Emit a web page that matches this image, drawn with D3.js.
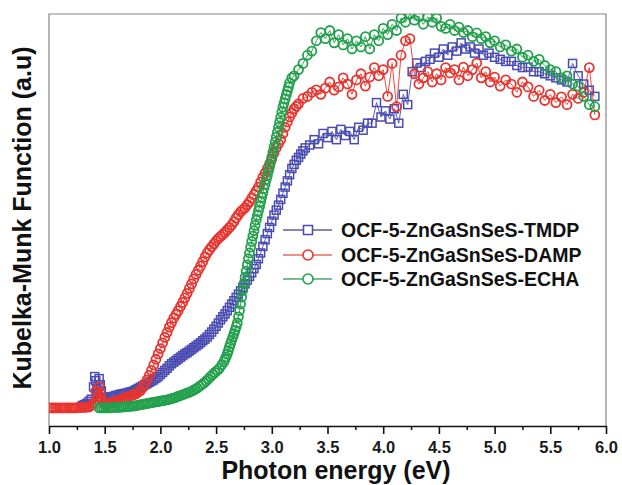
<!DOCTYPE html>
<html>
<head>
<meta charset="utf-8">
<script src="https://cdn.jsdelivr.net/npm/d3@7"></script>
<style>
  body { margin: 0; background: #fff; }
  text { font-family: "Liberation Sans", Arial, sans-serif; font-weight: bold; }
</style>
</head>
<body>
<svg id="chart" width="622" height="485"></svg>
<script>
// tick values (eV)
var majorTicks = [1.0, 1.5, 2.0, 2.5, 3.0, 3.5, 4.0, 4.5, 5.0, 5.5, 6.0];
var minorTicks = [1.25, 1.75, 2.25, 2.75, 3.25, 3.75, 4.25, 4.75, 5.25, 5.75];

var seriesNames = ["OCF-5-ZnGaSnSeS-TMDP", "OCF-5-ZnGaSnSeS-DAMP", "OCF-5-ZnGaSnSeS-ECHA"];

// [photon energy (eV), Kubelka-Munk (a.u.)]
var tmdp = [
  [1.30,5.0],[1.32,5.2],[1.34,5.5],[1.36,6.0],[1.38,6.5],[1.40,9.5],[1.41,12.0],[1.42,11.0],[1.43,9.0],
  [1.44,8.0],[1.45,11.5],[1.46,10.0],[1.47,8.5],[1.48,7.0],[1.50,6.5],[1.52,6.8],[1.54,7.0],[1.56,7.1],
  [1.58,7.2],[1.60,7.4],[1.62,7.5],[1.64,7.7],[1.66,7.8],[1.68,7.9],[1.70,8.0],[1.72,8.2],[1.74,8.3],
  [1.76,8.5],[1.78,8.8],[1.80,9.1],[1.82,9.4],[1.84,9.7],[1.86,10.0],[1.88,10.3],[1.90,10.6],[1.92,10.9],
  [1.94,11.2],[1.96,11.6],[1.98,12.0],[2.00,12.5],[2.02,13.0],[2.04,13.5],[2.06,14.0],[2.08,14.6],
  [2.10,15.1],[2.12,15.5],[2.14,15.9],[2.16,16.3],[2.18,16.7],[2.20,17.1],[2.22,17.5],[2.24,17.8],
  [2.26,18.2],[2.28,18.6],[2.30,19.0],[2.32,19.4],[2.34,19.8],[2.36,20.2],[2.38,20.7],[2.40,21.1],
  [2.42,21.6],[2.44,22.2],[2.46,22.8],[2.48,23.5],[2.50,24.2],[2.52,25.0],[2.54,25.8],[2.56,26.5],
  [2.58,27.2],[2.60,28.0],[2.62,28.8],[2.64,29.6],[2.66,30.4],[2.68,31.2],[2.70,32.0],[2.72,32.8],
  [2.74,33.6],[2.76,34.5],[2.78,35.4],[2.80,36.3],[2.82,37.2],[2.84,38.2],[2.86,39.2],[2.88,40.6],
  [2.90,42.0],[2.92,43.6],[2.94,45.2],[2.96,46.7],[2.98,48.2],[3.00,49.7],[3.02,51.2],[3.04,52.4],
  [3.06,53.6],[3.08,55.0],[3.10,56.5],[3.12,58.0],[3.14,59.5],[3.16,61.0],[3.18,62.5],[3.20,63.5],
  [3.22,64.5],[3.24,65.2],[3.26,66.0],[3.28,66.8],[3.30,67.5],[3.34,68.2],[3.38,69.5],[3.42,68.5],
  [3.46,71.0],[3.50,70.0],[3.54,71.5],[3.58,69.5],[3.62,72.0],[3.66,70.5],[3.70,71.5],[3.74,69.5],
  [3.78,72.5],[3.82,71.8],[3.86,73.5],[3.90,73.5],[3.94,78.5],[3.98,75.0],[4.02,76.5],[4.06,74.5],
  [4.10,77.0],[4.14,73.5],[4.18,80.5],[4.22,78.0],[4.26,86.0],[4.30,88.1],[4.34,87.0],[4.38,88.5],
  [4.42,89.0],[4.46,90.5],[4.50,89.5],[4.54,91.5],[4.58,90.0],[4.62,92.0],[4.66,91.0],[4.70,93.0],
  [4.74,91.5],[4.78,92.0],[4.82,90.5],[4.86,91.5],[4.90,90.0],[4.95,90.5],[5.00,89.5],[5.05,89.0],
  [5.10,88.5],[5.15,88.5],[5.20,87.5],[5.25,87.0],[5.30,87.1],[5.35,86.0],[5.40,86.0],[5.45,85.5],
  [5.50,85.0],[5.55,84.5],[5.60,84.0],[5.65,83.5],[5.70,88.0],[5.75,85.0],[5.80,83.0],[5.85,81.5],
  [5.90,80.0]
];

var damp = [
  [1.00,4.4],[1.02,4.4],[1.04,4.4],[1.06,4.4],[1.08,4.4],[1.10,4.4],[1.12,4.4],[1.14,4.4],[1.16,4.4],
  [1.18,4.4],[1.20,4.4],[1.22,4.4],[1.24,4.4],[1.26,4.5],[1.28,4.5],[1.30,4.5],[1.32,4.5],[1.34,4.6],
  [1.36,4.6],[1.38,5.0],[1.40,5.5],[1.42,8.5],[1.43,6.5],[1.44,7.0],[1.45,9.5],[1.46,8.0],[1.47,6.5],
  [1.48,6.0],[1.50,5.4],[1.52,5.4],[1.54,5.5],[1.56,5.6],[1.58,5.8],[1.60,6.0],[1.62,6.2],[1.64,6.4],
  [1.66,6.6],[1.68,6.8],[1.70,7.0],[1.72,7.2],[1.74,7.4],[1.76,7.6],[1.78,7.8],[1.80,8.2],[1.82,8.6],
  [1.84,9.3],[1.86,10.2],[1.88,11.2],[1.90,12.3],[1.92,13.5],[1.94,14.8],[1.96,16.2],[1.98,17.5],
  [2.00,18.8],[2.02,20.2],[2.04,21.5],[2.06,22.7],[2.08,24.0],[2.10,25.1],[2.12,26.2],[2.14,27.1],
  [2.16,28.0],[2.18,29.0],[2.20,30.0],[2.22,31.1],[2.24,32.2],[2.26,33.4],[2.28,34.5],[2.30,35.7],
  [2.32,36.8],[2.34,37.8],[2.36,38.8],[2.38,39.9],[2.40,41.0],[2.42,42.0],[2.44,42.8],[2.46,43.5],
  [2.48,44.2],[2.50,44.9],[2.52,45.5],[2.54,46.0],[2.56,46.5],[2.58,47.0],[2.60,47.6],[2.62,48.2],
  [2.64,48.8],[2.66,49.6],[2.68,50.5],[2.70,51.3],[2.72,52.0],[2.74,52.5],[2.76,53.0],[2.78,53.7],
  [2.80,54.4],[2.82,55.3],[2.84,56.2],[2.86,57.1],[2.88,58.0],[2.90,59.2],[2.92,60.4],[2.94,61.4],
  [2.96,62.5],[2.98,63.6],[3.00,64.8],[3.02,66.2],[3.04,67.5],[3.06,68.5],[3.08,69.5],[3.10,71.0],
  [3.12,72.5],[3.14,73.8],[3.16,75.0],[3.18,76.0],[3.20,77.0],[3.22,77.6],[3.24,78.2],[3.28,79.5],
  [3.32,80.0],[3.36,81.0],[3.40,81.6],[3.44,80.5],[3.48,82.0],[3.52,83.5],[3.56,81.5],[3.60,82.3],
  [3.64,84.5],[3.68,83.0],[3.72,80.5],[3.76,84.0],[3.80,85.5],[3.84,82.5],[3.88,84.7],[3.92,87.0],
  [3.96,85.0],[4.00,86.5],[4.04,80.0],[4.08,88.0],[4.12,77.5],[4.16,90.0],[4.20,93.5],[4.24,94.0],
  [4.28,85.5],[4.32,83.0],[4.36,84.5],[4.40,86.0],[4.44,83.5],[4.48,85.5],[4.52,84.0],[4.56,87.0],
  [4.60,85.7],[4.64,86.5],[4.68,84.0],[4.72,87.1],[4.76,85.0],[4.80,86.5],[4.84,88.1],[4.88,84.5],
  [4.92,86.0],[4.96,83.5],[5.00,84.7],[5.05,82.5],[5.10,84.0],[5.15,83.0],[5.20,81.0],[5.25,83.5],
  [5.30,82.3],[5.35,80.0],[5.40,81.5],[5.45,79.0],[5.50,80.5],[5.55,78.5],[5.60,79.9],[5.65,78.0],
  [5.70,80.5],[5.75,79.5],[5.80,81.0],[5.85,87.0],[5.90,75.5]
];

var echa = [
  [1.45,4.4],[1.47,4.4],[1.49,4.4],[1.51,4.4],[1.53,4.4],[1.55,4.4],[1.57,4.5],[1.59,4.5],[1.61,4.5],
  [1.63,4.5],[1.65,4.6],[1.67,4.6],[1.69,4.7],[1.71,4.7],[1.73,4.8],[1.75,4.8],[1.77,4.9],[1.79,5.0],
  [1.81,5.1],[1.83,5.2],[1.85,5.3],[1.87,5.4],[1.89,5.5],[1.91,5.6],[1.93,5.7],[1.95,5.8],[1.97,5.9],
  [1.99,6.0],[2.01,6.1],[2.03,6.2],[2.05,6.3],[2.07,6.4],[2.09,6.6],[2.11,6.7],[2.13,6.9],[2.15,7.1],
  [2.17,7.3],[2.19,7.5],[2.21,7.7],[2.23,7.9],[2.25,8.1],[2.27,8.3],[2.29,8.6],[2.31,8.9],[2.33,9.2],
  [2.35,9.6],[2.37,10.0],[2.39,10.4],[2.41,10.9],[2.43,11.4],[2.45,12.0],[2.47,12.5],[2.49,13.0],
  [2.51,13.5],[2.53,14.0],[2.55,14.8],[2.57,15.6],[2.58,16.2],[2.59,16.8],[2.60,17.5],[2.61,18.3],
  [2.62,19.2],[2.63,20.0],[2.64,20.8],[2.65,21.6],[2.66,22.4],[2.67,23.2],[2.68,24.1],[2.69,25.0],
  [2.70,26.5],[2.71,28.0],[2.72,29.6],[2.73,31.3],[2.74,33.0],[2.75,34.6],[2.76,36.1],[2.77,37.6],
  [2.78,39.1],[2.79,40.6],[2.80,42.0],[2.81,43.4],[2.82,44.8],[2.83,46.1],[2.84,47.4],[2.85,48.7],
  [2.86,50.0],[2.87,51.1],[2.88,52.2],[2.89,53.3],[2.90,54.4],[2.91,55.5],[2.92,56.6],[2.93,57.7],
  [2.94,58.7],[2.95,59.8],[2.96,60.8],[2.97,61.9],[2.98,62.9],[2.99,64.1],[3.00,65.3],[3.01,66.5],
  [3.02,67.7],[3.03,68.9],[3.04,70.1],[3.05,71.3],[3.06,72.5],[3.07,73.7],[3.08,74.9],[3.09,76.2],
  [3.10,77.4],[3.11,78.4],[3.12,79.4],[3.13,80.4],[3.14,81.3],[3.15,82.3],[3.16,83.3],[3.18,84.5],
  [3.20,85.0],[3.24,86.5],[3.28,88.0],[3.32,90.0],[3.36,91.0],[3.40,93.5],[3.44,95.5],[3.48,94.0],
  [3.52,96.0],[3.56,93.0],[3.60,95.0],[3.64,92.5],[3.68,94.0],[3.72,91.5],[3.76,93.5],[3.80,92.0],
  [3.84,94.5],[3.88,91.5],[3.92,95.0],[3.96,93.5],[4.00,96.5],[4.04,95.0],[4.08,97.5],[4.12,96.0],
  [4.16,99.0],[4.20,98.0],[4.24,100.0],[4.28,98.5],[4.32,99.5],[4.36,97.5],[4.40,99.3],[4.44,98.0],
  [4.48,99.0],[4.52,97.0],[4.56,96.5],[4.60,97.5],[4.64,96.0],[4.68,96.8],[4.72,95.5],[4.76,96.0],
  [4.80,94.5],[4.84,95.4],[4.88,94.0],[4.92,94.5],[4.96,93.0],[5.00,93.5],[5.05,92.0],[5.10,92.5],
  [5.15,91.0],[5.20,91.5],[5.25,89.5],[5.30,90.0],[5.35,88.5],[5.40,89.0],[5.45,87.5],[5.50,86.5],
  [5.55,86.0],[5.60,84.5],[5.65,85.0],[5.70,83.0],[5.75,82.5],[5.80,80.0],[5.85,78.0],[5.90,77.5]
];

var svg = d3.select("#chart");

var x = d3.scaleLinear().domain([1, 6]).range([49, 606]);
var y = d3.scaleLinear().domain([0, 100]).range([426, 14]);

// plot clip
svg.append("clipPath").attr("id", "plotClip")
  .append("rect")
  .attr("x", x(1)).attr("y", y(100))
  .attr("width", x(6) - x(1)).attr("height", y(0) - y(100));

// Frame (left / top / right)
svg.append("path")
  .attr("d", "M" + x(1) + "," + y(0) + "V" + y(100) + "H" + x(6) + "V" + y(0))
  .attr("fill", "none")
  .attr("stroke", "#8a8585")
  .attr("stroke-width", 1.2);

var series = [
  { data: tmdp, color: "#4a4cb3", lineColor: "#6a5a9a", shape: "square" },
  { data: damp, color: "#e8342e", lineColor: "#e86a60", shape: "circle" },
  { data: echa, color: "#22a04c", lineColor: "#4aa868", shape: "circle" }
];

var line = d3.line()
  .x(function(d) { return x(d[0]); })
  .y(function(d) { return y(d[1]); });

var plot = svg.append("g").attr("clip-path", "url(#plotClip)");

series.forEach(function(s) {
  var g = plot.append("g");

  g.append("path")
    .datum(s.data)
    .attr("d", line)
    .attr("fill", "none")
    .attr("stroke", s.color)
    .attr("stroke-width", 0.9);

  if (s.shape === "square") {
    g.selectAll("rect").data(s.data).enter().append("rect")
      .attr("x", function(d) { return x(d[0]) - 4; })
      .attr("y", function(d) { return y(d[1]) - 4; })
      .attr("width", 8).attr("height", 8)
      .attr("fill", "none")
      .attr("stroke", s.color)
      .attr("stroke-width", 1.5);
  } else {
    g.selectAll("circle").data(s.data).enter().append("circle")
      .attr("cx", function(d) { return x(d[0]); })
      .attr("cy", function(d) { return y(d[1]); })
      .attr("r", 4.5)
      .attr("fill", "none")
      .attr("stroke", s.color)
      .attr("stroke-width", 1.8);
  }
});

// Bottom axis, minor ticks
svg.append("g")
  .attr("transform", "translate(0," + y(0) + ")")
  .call(d3.axisBottom(x).tickValues(minorTicks).tickSize(4).tickSizeOuter(0).tickFormat(""))
  .call(function(g) {
    g.select(".domain").remove();
    g.selectAll("line").attr("stroke", "#111").attr("stroke-width", 1.5);
  });

// Bottom axis, major ticks + labels
svg.append("g")
  .attr("transform", "translate(0," + y(0) + ")")
  .call(d3.axisBottom(x).tickValues(majorTicks).tickSize(8).tickSizeOuter(0).tickPadding(7).tickFormat(d3.format(".1f")))
  .call(function(g) {
    g.attr("font-size", 16.5).attr("font-family", null);
    g.select(".domain").attr("stroke", "#111").attr("stroke-width", 1.6);
    g.selectAll("line").attr("stroke", "#111").attr("stroke-width", 1.6);
    g.selectAll("text")
      .attr("fill", "#1a1a1a")
      .attr("font-size", 16.5);
  });

// X title
svg.append("text")
  .attr("x", 336)
  .attr("y", 479)
  .attr("text-anchor", "middle")
  .attr("font-size", 25)
  .attr("fill", "#111")
  .text("Photon energy (eV)");

// Y title
svg.append("text")
  .attr("transform", "translate(31,218) rotate(-90)")
  .attr("text-anchor", "middle")
  .attr("font-size", 25)
  .attr("fill", "#111")
  .text("Kubelka-Munk Function (a.u)");

// Legend
var legendY = [230, 255, 279];
series.forEach(function(s, i) {
  var ly = legendY[i];
  svg.append("line")
    .attr("x1", 283).attr("x2", 332)
    .attr("y1", ly).attr("y2", ly)
    .attr("stroke", s.lineColor)
    .attr("stroke-width", 1.3);

  if (s.shape === "square") {
    svg.append("rect")
      .attr("x", 308 - 4.5).attr("y", ly - 4.5)
      .attr("width", 9).attr("height", 9)
      .attr("fill", "#fff")
      .attr("stroke", s.color)
      .attr("stroke-width", 1.5);
  } else {
    svg.append("circle")
      .attr("cx", 308).attr("cy", ly)
      .attr("r", 5)
      .attr("fill", "#fff")
      .attr("stroke", s.color)
      .attr("stroke-width", 1.6);
  }

  svg.append("text")
    .attr("x", 341)
    .attr("y", ly + 7)
    .attr("font-size", 19.5)
    .attr("fill", "#111")
    .text(seriesNames[i]);
});
</script>
</body>
</html>
